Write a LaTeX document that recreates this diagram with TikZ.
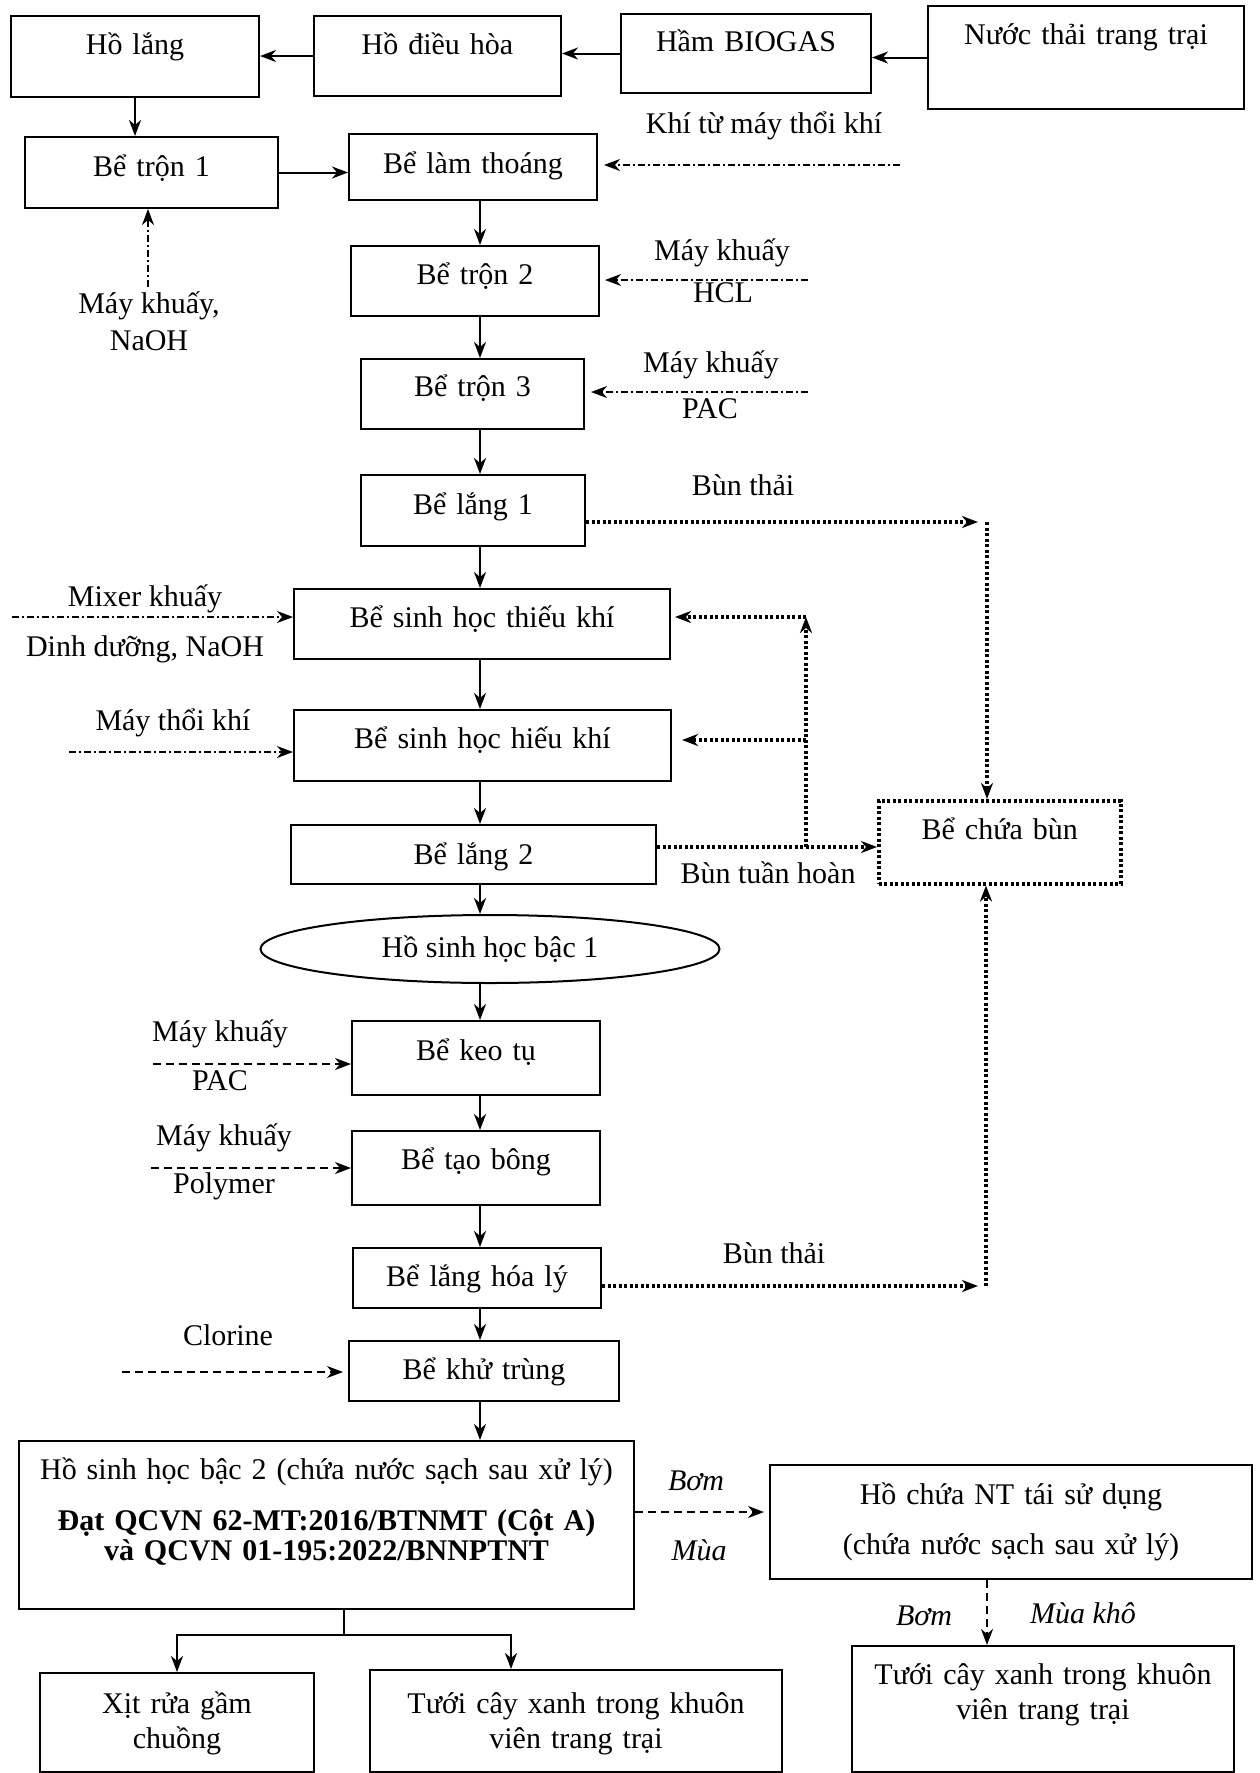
\documentclass[tikz,border=0pt]{standalone}
\usepackage{fontspec}
\setmainfont{Liberation Serif}
\usepackage{tikz}
\usetikzlibrary{arrows.meta}
\usetikzlibrary{shapes.geometric}
\tikzset{
    >={Stealth[length=16pt,width=12pt,inset=5pt]},
    tank/.style={draw=black, rectangle, line width=2pt, inner sep=0pt, align=center, anchor=north west},
    pond/.style={draw=black, ellipse, line width=2pt, inner sep=0pt},
    flow/.style={draw=black, line width=2pt, ->},
    feed/.style={draw=black, line width=1.6pt, dash pattern=on 7pt off 3pt on 2pt off 3pt, ->},
    dose/.style={draw=black, line width=1.8pt, dash pattern=on 8pt off 5pt, ->},
    sludge/.style={draw=black, line width=3.5pt, dash pattern=on 3pt off 2.5pt},
    lbl/.style={anchor=base, inner sep=0pt},
}

\begin{document}
\begin{tikzpicture}[x=1pt, y=-1pt, font=\fontsize{30}{35}\selectfont]
	\useasboundingbox (0,0) rectangle (1259,1773);
	% tanks
	\node[tank, text width=248pt, text height=38pt, text depth=43pt] (holang) at (10,15) {Hồ lắng};
	\node[tank, text width=247pt, text height=38pt, text depth=42pt] (hodieuhoa) at (313,15) {Hồ điều hòa};
	\node[tank, text width=250pt, text height=37pt, text depth=42pt] (biogas) at (620,13) {Hầm BIOGAS};
	\node[tank, text width=316pt, text height=38pt, text depth=65pt] (nuocthai) at (927,5) {Nước thải trang trại};
	\node[tank, text width=253pt, text height=39pt, text depth=32pt] (tron1) at (24,136) {Bể trộn 1};
	\node[tank, text width=248pt, text height=39pt, text depth=27pt] (lamthoang) at (348,133) {Bể làm thoáng};
	\node[tank, text width=248pt, text height=38pt, text depth=32pt] (tron2) at (350,245) {Bể trộn 2};
	\node[tank, text width=223pt, text height=37pt, text depth=33pt] (tron3) at (360,358) {Bể trộn 3};
	\node[tank, text width=224pt, text height=39pt, text depth=32pt] (lang1) at (360,474) {Bể lắng 1};
	\node[tank, text width=376pt, text height=38pt, text depth=32pt] (thieukhi) at (293,588) {Bể sinh học thiếu khí};
	\node[tank, text width=377pt, text height=38pt, text depth=33pt] (hieukhi) at (293,709) {Bể sinh học hiếu khí};
	\node[tank, text width=365pt, text height=39pt, text depth=20pt] (lang2) at (290,824) {Bể lắng 2};
	\node[tank, sludge, text width=242pt, text height=39pt, text depth=44pt] (chuabun) at (877,799) {Bể chứa bùn};
	\node[pond, minimum width=459pt, minimum height=68pt] (hsh1) at (490,949) {Hồ sinh học bậc 1};
	\node[tank, text width=248pt, text height=39pt, text depth=35pt] (keotu) at (351,1020) {Bể keo tụ};
	\node[tank, text width=248pt, text height=38pt, text depth=36pt] (taobong) at (351,1130) {Bể tạo bông};
	\node[tank, text width=248pt, text height=38pt, text depth=22pt] (hoaly) at (352,1247) {Bể lắng hóa lý};
	\node[tank, text width=270pt, text height=38pt, text depth=22pt] (khutrung) at (348,1340) {Bể khử trùng};
	\node[tank, text width=615pt, text height=38pt, text depth=130pt, font=\fontsize{30}{30}\selectfont] (hsh2) at (18,1440)
		{Hồ sinh học bậc 2 (chứa nước sạch sau xử lý)\\[21pt]\textbf{Đạt QCVN 62-MT:2016/BTNMT (Cột A)}\\\textbf{và QCVN 01-195:2022/BNNPTNT}};
	\node[tank, text width=482pt, text height=39pt, text depth=75pt, font=\fontsize{30}{30}\selectfont] (hochua) at (769,1464)
		{Hồ chứa NT tái sử dụng\\[20pt](chứa nước sạch sau xử lý)};
	\node[tank, text width=274pt, text height=40pt, text depth=59pt] (xitrua) at (39,1672) {Xịt rửa gầm\\chuồng};
	\node[tank, text width=412pt, text height=43pt, text depth=59pt] (tuoi1) at (369,1669) {Tưới cây xanh trong khuôn\\viên trang trại};
	\node[tank, text width=382pt, text height=38pt, text depth=88pt] (tuoi2) at (851,1645) {Tưới cây xanh trong khuôn\\viên trang trại};

	% main line
	\coordinate (col) at (480,0);
	\draw[flow] (nuocthai.west) -- (nuocthai.west -| biogas.east);
	\draw[flow] (biogas.west) -- (biogas.west -| hodieuhoa.east);
	\draw[flow] (hodieuhoa.west) -- (hodieuhoa.west -| holang.east);
	\draw[flow] (holang.south) -- (holang.south |- tron1.north);
	\draw[flow] (tron1.east) -- (tron1.east -| lamthoang.west);
	\draw[flow] (lamthoang.south -| col) -- (tron2.north -| col);
	\draw[flow] (tron2.south -| col) -- (tron3.north -| col);
	\draw[flow] (tron3.south -| col) -- (lang1.north -| col);
	\draw[flow] (lang1.south -| col) -- (thieukhi.north -| col);
	\draw[flow] (thieukhi.south -| col) -- (hieukhi.north -| col);
	\draw[flow] (hieukhi.south -| col) -- (lang2.north -| col);
	\draw[flow] (lang2.south -| col) -- (hsh1.north -| col);
	\draw[flow] (hsh1.south -| col) -- (keotu.north -| col);
	\draw[flow] (keotu.south -| col) -- (taobong.north -| col);
	\draw[flow] (taobong.south -| col) -- (hoaly.north -| col);
	\draw[flow] (hoaly.south -| col) -- (khutrung.north -| col);
	\draw[flow] (khutrung.south -| col) -- (hsh2.north -| col);
	\coordinate (split) at (344,1635);
	\coordinate (split2) at (511,1635);
	\draw[line width=2pt] (hsh2.south -| split) -- (split);
	\draw[flow] (split) -| (xitrua.north);
	\draw[flow] (split) -- (split2) -- (split2 |- tuoi1.north);

	% chemicals and air
	\coordinate (khi) at (900,165);
	\coordinate (hcl) at (808,280);
	\coordinate (pac1) at (808,392);
	\coordinate (naoh) at (148,287);
	\coordinate (mixer) at (12,617);
	\coordinate (thoikhi) at (69,752);
	\draw[feed, shorten >=6pt] (khi) -- (khi -| lamthoang.east);
	\draw[feed, shorten >=5pt] (hcl) -- (hcl -| tron2.east);
	\draw[feed, shorten >=6pt] (pac1) -- (pac1 -| tron3.east);
	\draw[feed] (naoh) -- (naoh |- tron1.south);
	\draw[feed] (mixer) -- (mixer -| thieukhi.west);
	\draw[feed] (thoikhi) -- (thoikhi -| hieukhi.west);
	\coordinate (pac2) at (153,1064);
	\coordinate (poly) at (151,1168);
	\coordinate (clo) at (122,1372);
	\draw[dose] (pac2) -- (pac2 -| keotu.west);
	\draw[dose] (poly) -- (poly -| taobong.west);
	\draw[dose, shorten >=5pt] (clo) -- (clo -| khutrung.west);

	% reuse
	\coordinate (pump) at (700,1512);
	\coordinate (pump2) at (987,1600);
	\draw[dose, shorten >=5pt] (hsh2.east |- pump) -- (hochua.west |- pump);
	\draw[dose] (hochua.south -| pump2) -- (tuoi2.north -| pump2);

	% sludge
	\coordinate (s1) at (987,522);
	\coordinate (s2) at (986,1286);
	\coordinate (ret) at (806,847);
	\coordinate (rettop) at (806,617);
	\coordinate (ret2) at (806,740);
	\draw[sludge, ->, shorten >=9pt] (lang1.east |- s1) -- (s1);
	\draw[sludge, ->] (s1) -- (s1 |- chuabun.north);
	\draw[sludge, ->, shorten >=8pt] (hoaly.east |- s2) -- (s2);
	\draw[sludge, ->] (s2) -- (s2 |- chuabun.south);
	\draw[sludge, ->] (lang2.east |- ret) -- (ret -| chuabun.west);
	\draw[sludge, ->] (ret) -- (rettop);
	\draw[sludge, ->, shorten >=4pt] (rettop) -- (rettop -| thieukhi.east);
	\draw[sludge, ->, shorten >=10pt] (ret2) -- (ret2 -| hieukhi.east);

	% labels
	\node[lbl] (khilbl) at (764,133) {Khí từ máy thổi khí};
	\node[lbl] (hcltop) at (722,260) {Máy khuấy};
	\node[lbl] (hclbot) at (723,302) {HCL};
	\node[lbl] (pactop) at (711,372) {Máy khuấy};
	\node[lbl] (pacbot) at (710,418) {PAC};
	\node[lbl] (naohtop) at (149,313) {Máy khuấy,};
	\node[lbl] (naohbot) at (149,350) {NaOH};
	\node[lbl] (bun1) at (743,495) {Bùn thải};
	\node[lbl] (mixertop) at (145,606) {Mixer khuấy};
	\node[lbl] (mixerbot) at (145,656) {Dinh dưỡng, NaOH};
	\node[lbl] (thoikhilbl) at (173,730) {Máy thổi khí};
	\node[lbl] (tuanhoan) at (768,883) {Bùn tuần hoàn};
	\node[lbl] (pac2top) at (220,1041) {Máy khuấy};
	\node[lbl] (pac2bot) at (220,1090) {PAC};
	\node[lbl] (polytop) at (224,1145) {Máy khuấy};
	\node[lbl] (polybot) at (224,1193) {Polymer};
	\node[lbl] (bun2) at (774,1263) {Bùn thải};
	\node[lbl] (clolbl) at (228,1345) {Clorine};
	\node[lbl, font=\fontsize{30}{35}\selectfont\itshape] (bom1) at (696,1490) {Bơm};
	\node[lbl, font=\fontsize{30}{35}\selectfont\itshape] (mua1) at (699,1560) {Mùa};
	\node[lbl, font=\fontsize{30}{35}\selectfont\itshape] (bom2) at (924,1625) {Bơm};
	\node[lbl, font=\fontsize{30}{35}\selectfont\itshape] (mua2) at (1083,1623) {Mùa khô};
\end{tikzpicture}
\end{document}
